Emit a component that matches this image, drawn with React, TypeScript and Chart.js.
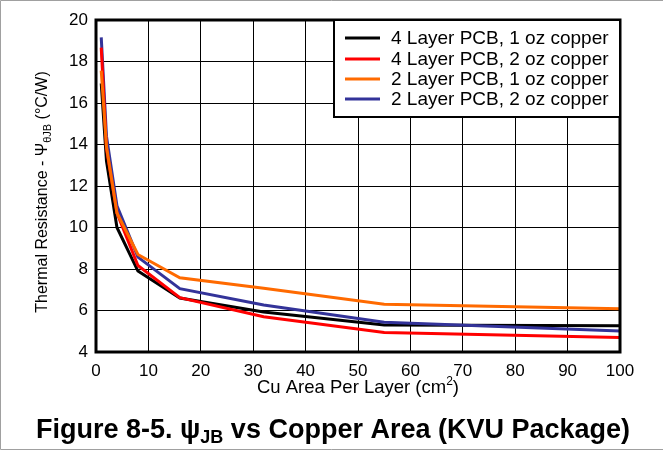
import React, { useEffect, useRef } from "react";
import { Chart, registerables } from "chart.js";

Chart.register(...registerables);

const areas = [1, 2, 4, 8, 16, 32, 55, 100];
const fourLayer1oz = [16.94, 13.2, 10.0, 7.9, 6.6, 5.93, 5.3, 5.27];
const fourLayer2oz = [18.67, 13.8, 10.7, 8.17, 6.62, 5.7, 4.94, 4.7];
const twoLayer1oz = [17.56, 13.9, 10.7, 8.7, 7.58, 7.07, 6.3, 6.09];
const twoLayer2oz = [19.16, 14.4, 11.05, 8.57, 7.05, 6.27, 5.43, 5.01];

const seriesLabels = [
  "4 Layer PCB, 1 oz copper",
  "4 Layer PCB, 2 oz copper",
  "2 Layer PCB, 1 oz copper",
  "2 Layer PCB, 2 oz copper",
];
const seriesColors = ["#000000", "#ff0000", "#ff6a00", "#333399"];
const seriesValues = [fourLayer1oz, fourLayer2oz, twoLayer1oz, twoLayer2oz];
const drawOrder = [3, 1, 0, 2];

const FONT = "'Liberation Sans', Arial, Helvetica, sans-serif";

const decorPlugin = {
  id: "decor",
  afterDatasetsDraw(chart: any) {
    const ctx = chart.ctx;
    const { left, right, top, bottom } = chart.chartArea;
    ctx.save();
    // plot frame
    ctx.strokeStyle = "#000";
    ctx.lineWidth = 3;
    ctx.strokeRect(left, top, right - left, bottom - top);

    // legend box
    const lx = 334, ly = top, lw = right - 334, lh = 97;
    ctx.fillStyle = "#fff";
    ctx.fillRect(lx, ly, lw, lh);
    ctx.lineWidth = 2;
    ctx.strokeRect(lx, ly, lw, lh);
    ctx.font = `19px ${FONT}`;
    ctx.textBaseline = "middle";
    ctx.textAlign = "left";
    const rows = [38, 59, 79, 99];
    chart.data.datasets.forEach((ds: any, i: number) => {
      const y = rows[i];
      ctx.strokeStyle = ds.borderColor;
      ctx.lineWidth = 3;
      ctx.beginPath();
      ctx.moveTo(345, y);
      ctx.lineTo(380, y);
      ctx.stroke();
      ctx.fillStyle = "#000";
      ctx.fillText(ds.label, 391, y + 1);
    });
    ctx.restore();
  },
  afterDraw(chart: any) {
    const ctx = chart.ctx;
    const W = chart.width;
    const H = chart.height;
    ctx.save();
    // outer border
    ctx.strokeStyle = "#a0a0a0";
    ctx.lineWidth = 1;
    ctx.beginPath();
    ctx.moveTo(W, 0.5);
    ctx.lineTo(0.5, 0.5);
    ctx.lineTo(0.5, H - 2.5);
    ctx.lineTo(W, H - 2.5);
    ctx.stroke();

    const { left, right, top, bottom } = chart.chartArea;
    ctx.fillStyle = "#000";
    ctx.textBaseline = "alphabetic";
    ctx.textAlign = "left";

    // x axis title
    const xa = "Cu Area Per Layer (cm";
    const xb = "2";
    const xc = ")";
    ctx.font = `18.5px ${FONT}`;
    const wa = ctx.measureText(xa).width;
    const wc = ctx.measureText(xc).width;
    ctx.font = `12px ${FONT}`;
    const wb = ctx.measureText(xb).width;
    const xStart = (left + right) / 2 - (wa + wb + wc) / 2;
    const xBase = 393;
    ctx.font = `18.5px ${FONT}`;
    ctx.fillText(xa, xStart, xBase);
    ctx.font = `12px ${FONT}`;
    ctx.fillText(xb, xStart + wa, xBase - 8);
    ctx.font = `18.5px ${FONT}`;
    ctx.fillText(xc, xStart + wa + wb, xBase);

    // y axis title (rotated)
    ctx.save();
    ctx.translate(47, (top + bottom) / 2 + 6);
    ctx.rotate(-Math.PI / 2);
    const ya = "Thermal Resistance - \u03A8";
    const yb = "\u03B8JB";
    const yc = " (\u00B0C/W)";
    ctx.font = `16px ${FONT}`;
    const ywa = ctx.measureText(ya).width;
    const ywc = ctx.measureText(yc).width;
    ctx.font = `11px ${FONT}`;
    const ywb = ctx.measureText(yb).width;
    const ys = -(ywa + ywb + ywc) / 2;
    ctx.font = `16px ${FONT}`;
    ctx.fillText(ya, ys, 0);
    ctx.font = `11px ${FONT}`;
    ctx.fillText(yb, ys + ywa, 4);
    ctx.font = `16px ${FONT}`;
    ctx.fillText(yc, ys + ywa + ywb, 0);
    ctx.restore();

    // figure caption
    const ta = "Figure 8-5. \u03C8";
    const tb = "JB";
    const tc = " vs Copper Area (KVU Package)";
    ctx.font = `bold 27px ${FONT}`;
    const twa = ctx.measureText(ta).width;
    const twc = ctx.measureText(tc).width;
    ctx.font = `bold 18px ${FONT}`;
    const twb = ctx.measureText(tb).width;
    const ts = 333 - (twa + twb + twc) / 2;
    const tBase = 438;
    ctx.font = `bold 27px ${FONT}`;
    ctx.fillText(ta, ts, tBase);
    ctx.font = `bold 18px ${FONT}`;
    ctx.fillText(tb, ts + twa, tBase + 5);
    ctx.font = `bold 27px ${FONT}`;
    ctx.fillText(tc, ts + twa + twb, tBase);
    ctx.restore();
  },
};

export default function App() {
  const ref = useRef<HTMLCanvasElement | null>(null);

  useEffect(() => {
    document.body.style.margin = "0";
    const canvas = ref.current;
    if (!canvas) return;
    const chart = new Chart(canvas, {
      type: "line",
      data: {
        datasets: seriesLabels.map((label, i) => ({
          label,
          data: areas.map((x, j) => ({ x, y: seriesValues[i][j] })),
          borderColor: seriesColors[i],
          backgroundColor: seriesColors[i],
          borderWidth: 3,
          pointRadius: 0,
          tension: 0,
          fill: false,
          order: drawOrder[i],
        })),
      },
      options: {
        animation: false,
        responsive: false,
        devicePixelRatio: 1,
        layout: { padding: { top: 20, right: 43, left: 0, bottom: 52 } },
        plugins: {
          legend: { display: false },
          tooltip: { enabled: false },
          title: { display: false },
        },
        scales: {
          x: {
            type: "linear",
            min: 0,
            max: 100,
            ticks: {
              stepSize: 10,
              color: "#000",
              font: { family: FONT, size: 17 },
              padding: 9,
              maxRotation: 0,
            },
            grid: { color: "#000", lineWidth: 1, drawTicks: false },
            border: { display: false },
            afterFit: (scale: any) => {
              scale.height = 48;
            },
          },
          y: {
            type: "linear",
            min: 4,
            max: 20,
            ticks: {
              stepSize: 2,
              color: "#000",
              font: { family: FONT, size: 17 },
              padding: 8,
            },
            grid: { color: "#000", lineWidth: 1, drawTicks: false },
            border: { display: false },
            afterFit: (scale: any) => {
              scale.width = 96;
            },
          },
        },
      },
      plugins: [decorPlugin],
    });
    return () => chart.destroy();
  }, []);

  return (
    <div style={{ width: 663, height: 452, position: "relative" }}>
      <canvas ref={ref} width={663} height={452} style={{ display: "block" }} />
    </div>
  );
}
